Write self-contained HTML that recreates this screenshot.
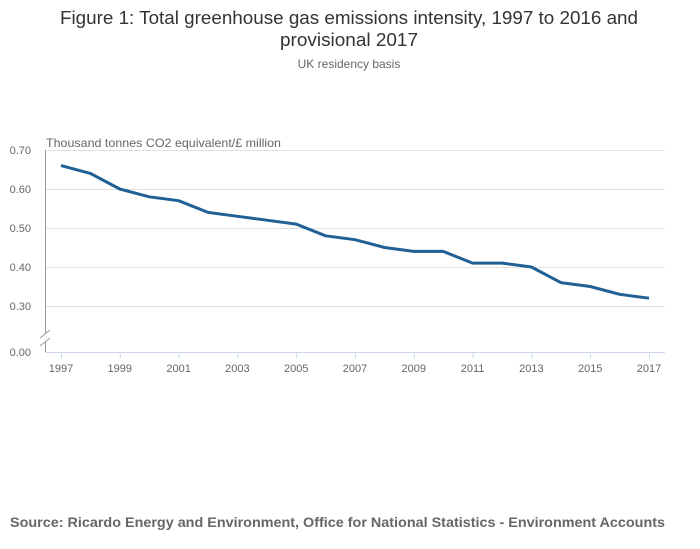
<!DOCTYPE html>
<html><head><meta charset="utf-8"><style>
body{margin:0;background:#fff;font-family:"Liberation Sans",sans-serif;}
svg{display:block}
</style></head><body>
<svg width="700" height="549" viewBox="0 0 700 549">
<text x="349" y="24" text-anchor="middle" font-size="18" fill="#333" textLength="578" lengthAdjust="spacingAndGlyphs">Figure 1: Total greenhouse gas emissions intensity, 1997 to 2016 and</text>
<text x="349" y="46" text-anchor="middle" font-size="18" fill="#333" textLength="138" lengthAdjust="spacingAndGlyphs">provisional 2017</text>
<text x="349" y="68" text-anchor="middle" font-size="12" fill="#666">UK residency basis</text>
<text x="46" y="147" font-size="12" fill="#666" textLength="235" lengthAdjust="spacingAndGlyphs">Thousand tonnes CO2 equivalent/£ million</text>
<g id="grid"></g>
<g id="yt"></g>
<g id="xt"></g>
<line x1="45.5" y1="150" x2="45.5" y2="334" stroke="#999"/>
<line x1="45.5" y1="342" x2="45.5" y2="352" stroke="#999"/>
<line x1="40" y1="338" x2="50" y2="330" stroke="#999"/>
<line x1="40" y1="346" x2="50" y2="338" stroke="#999"/>
<path id="line" fill="none" stroke="#206095" stroke-width="3" stroke-linejoin="round"/>
<text x="665" y="527" text-anchor="end" font-size="14" font-weight="bold" fill="#666" textLength="655" lengthAdjust="spacingAndGlyphs">Source: Ricardo Energy and Environment, Office for National Statistics - Environment Accounts</text>
</svg>
<script>
const years=[1997,1998,1999,2000,2001,2002,2003,2004,2005,2006,2007,2008,2009,2010,2011,2012,2013,2014,2015,2016,2017];
const values=[0.66,0.64,0.60,0.58,0.57,0.54,0.53,0.52,0.51,0.48,0.47,0.45,0.44,0.44,0.41,0.41,0.40,0.36,0.35,0.33,0.32];
const yTicks=[0.3,0.4,0.5,0.6,0.7];
const xTicks=[1997,1999,2001,2003,2005,2007,2009,2011,2013,2015,2017];
const NS="http://www.w3.org/2000/svg";
const xS=y=>61+(y-1997)*(649-61)/20;
const yS=v=>306-(v-0.3)*390;
function mk(t,a,p){const e=document.createElementNS(NS,t);for(const k in a)e.setAttribute(k,a[k]);p.appendChild(e);return e;}
const g=document.getElementById('grid'),yt=document.getElementById('yt'),xt=document.getElementById('xt');
yTicks.forEach(v=>{
 const l=mk('line',{x1:46,x2:665,y1:yS(v)+.5,y2:yS(v)+.5,stroke:'#e0e0e0'},g);
 
 
 const t=mk('text',{x:31,y:yS(v)+4,'text-anchor':'end','font-size':11,fill:'#666'},yt);
 t.textContent=v.toFixed(2);
 
 
});
const z=mk('text',{x:31,y:356,'text-anchor':'end','font-size':11,fill:'#666'},yt);
z.textContent='0.00';


const ax=mk('line',{x1:45,x2:665,y1:352.5,y2:352.5,stroke:'#ccd6eb'},xt);


xTicks.forEach(y=>{
 const tk=mk('line',{x1:xS(y)+.5,x2:xS(y)+.5,y1:352,y2:358,stroke:'#ccd6eb'},xt);
 
 
 const t=mk('text',{x:xS(y),y:372,'text-anchor':'middle','font-size':11,fill:'#666'},xt);
 t.textContent=y;
 
 
});
document.getElementById('line').setAttribute('d',years.map((y,i)=>(i?'L':'M')+xS(y)+','+yS(values[i])).join(''));
</script>
</body></html>
